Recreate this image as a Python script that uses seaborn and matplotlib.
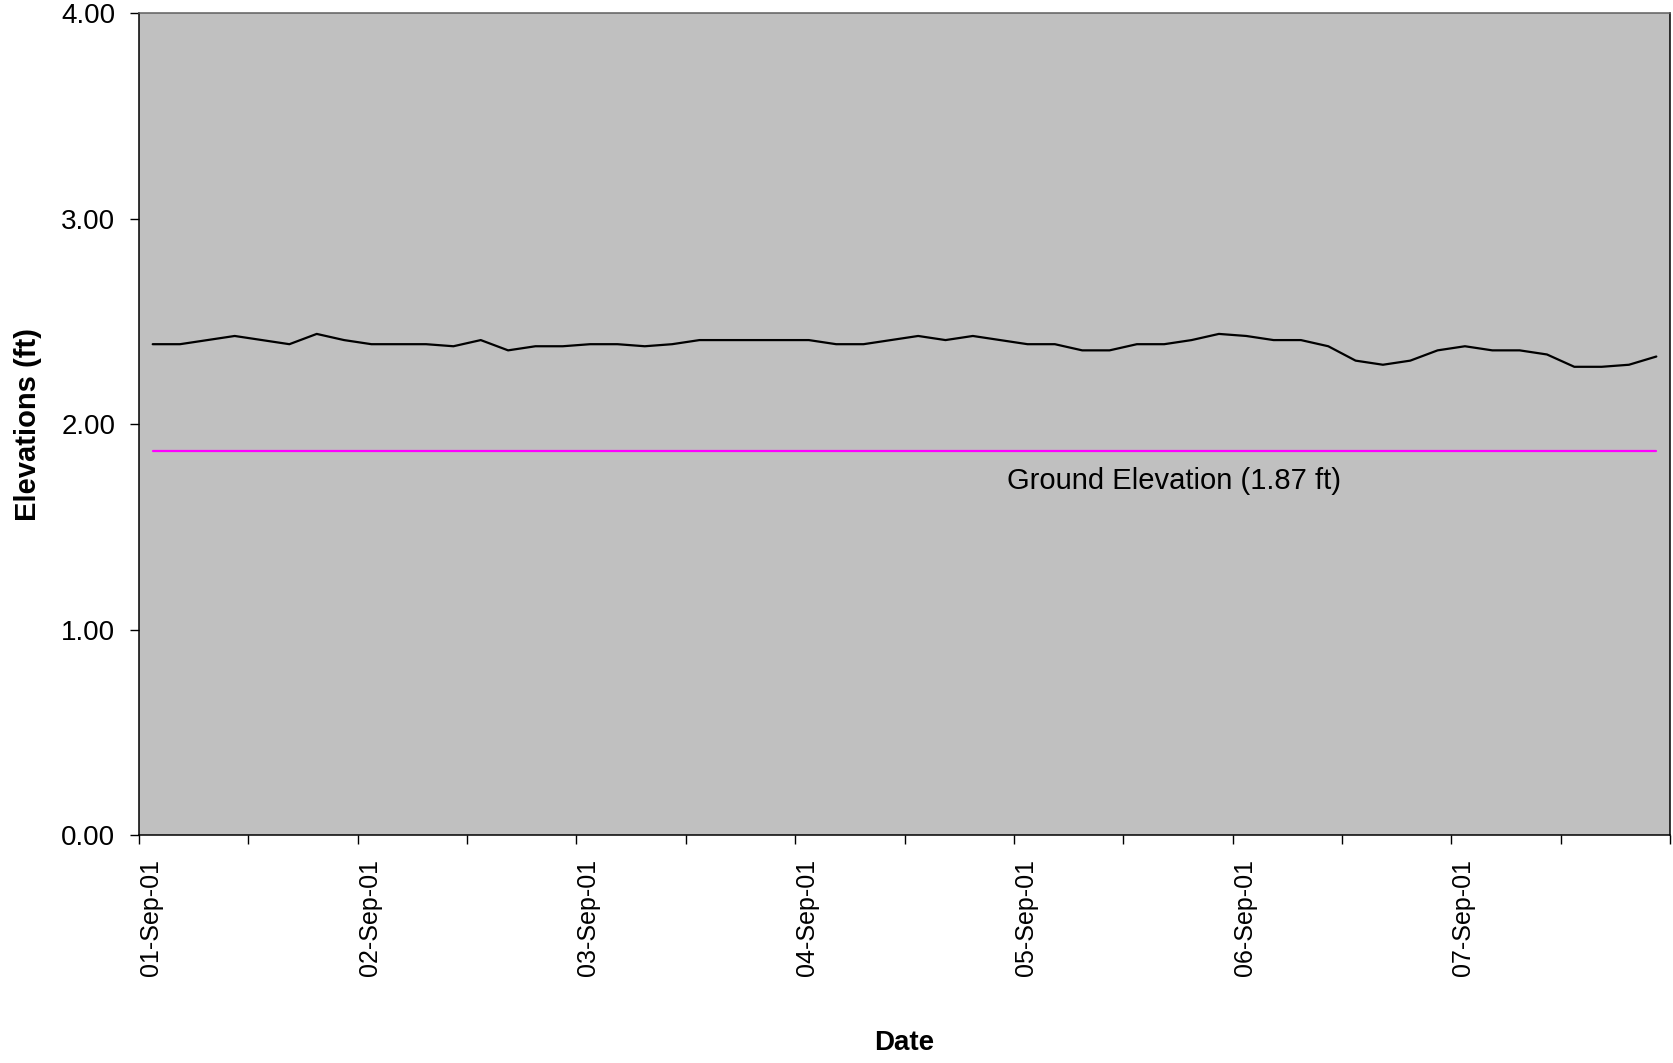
import matplotlib
matplotlib.use("Agg")
import matplotlib.pyplot as plt
import numpy as np
import pandas as pd
import seaborn as sns

# 3-hourly water surface elevations, 01-Sep-01 00:00 through 07-Sep-01 21:00 (ft)
start_time = "2001-09-01 00:00"
step = "3h"
elevations = [
    2.39, 2.39, 2.41, 2.43, 2.41, 2.39, 2.44, 2.41, 2.39, 2.39, 2.39, 2.38, 2.41, 2.36,
    2.38, 2.38, 2.39, 2.39, 2.38, 2.39, 2.41, 2.41, 2.41, 2.41, 2.41, 2.39, 2.39, 2.41, 2.43,
    2.41, 2.43, 2.41, 2.39, 2.39, 2.36, 2.36, 2.39, 2.39, 2.41, 2.44, 2.43, 2.41, 2.41,
    2.38, 2.31, 2.29, 2.31, 2.36, 2.38, 2.36, 2.36, 2.34, 2.28, 2.28, 2.29, 2.33,
]
ground_elevation = 1.87
y_ticks = [0.0, 1.0, 2.0, 3.0, 4.0]
date_labels = ["01-Sep-01", "02-Sep-01", "03-Sep-01", "04-Sep-01",
               "05-Sep-01", "06-Sep-01", "07-Sep-01"]

times = pd.date_range(start_time, periods=len(elevations), freq=step)
# each reading sits in the middle of its 3-hour slot
slot_centre = times + pd.Timedelta(step) / 2
df = pd.DataFrame({
    "Date": slot_centre,
    "Elevation": elevations,
    "Ground": [ground_elevation] * len(elevations),
})

sns.set_style("ticks")
plt.rcParams["font.family"] = ["Liberation Sans", "DejaVu Sans"]
plt.rcParams["text.color"] = "black"
plt.rcParams["axes.labelcolor"] = "black"
plt.rcParams["xtick.color"] = "black"
plt.rcParams["ytick.color"] = "black"

fig = plt.figure(figsize=(16.73, 10.63), dpi=100)
fig.patch.set_facecolor("white")
ax = fig.add_axes([0.0831, 0.2141, 0.9151, 0.7734])
ax.set_facecolor("#C0C0C0")

sns.lineplot(data=df, x="Date", y="Ground", ax=ax, color="#FF00FF",
             linewidth=1.6, legend=False)
sns.lineplot(data=df, x="Date", y="Elevation", ax=ax, color="black",
             linewidth=1.6, legend=False)

day0 = pd.Timestamp(start_time)
ax.set_xlim(day0, day0 + pd.Timedelta(days=7))
ax.set_ylim(0, 4)

major = [day0 + pd.Timedelta(days=d) for d in range(len(date_labels))]
minor = [day0 + pd.Timedelta(hours=12 + 24 * d) for d in range(7)] + [day0 + pd.Timedelta(days=7)]
ax.set_xticks(major)
ax.set_xticklabels(date_labels, rotation=90, fontsize=18, ha="left", color="black")
ax.set_xticks(minor, minor=True)
ax.set_yticks(y_ticks)
ax.set_yticklabels([f"{v:.2f}" for v in y_ticks], fontsize=20, color="black")

ax.tick_params(axis="both", which="both", direction="out", length=6.5,
               width=1.0, color="black", pad=10.5)
ax.tick_params(axis="x", which="minor", labelbottom=False)

for side in ["left", "bottom", "right"]:
    ax.spines[side].set_color("black")
    ax.spines[side].set_linewidth(1.1)
ax.spines["top"].set_color("#5f5f5f")
ax.spines["top"].set_linewidth(1.1)

ax.set_xlabel("Date", fontsize=20, fontweight="bold", color="black")
ax.set_ylabel("Elevations (ft)", fontsize=21, fontweight="bold", color="black")
ax.xaxis.label.set_va("center")
ax.yaxis.label.set_va("center")
ax.xaxis.set_label_coords(0.5, -0.2524)
ax.yaxis.set_label_coords(-0.0728, 0.5)

ax.text(0.567, 0.431, f"Ground Elevation ({ground_elevation} ft)",
        transform=ax.transAxes, fontsize=21, ha="left", va="center", color="black")

fig.savefig("out.png", dpi=100, facecolor="white")
